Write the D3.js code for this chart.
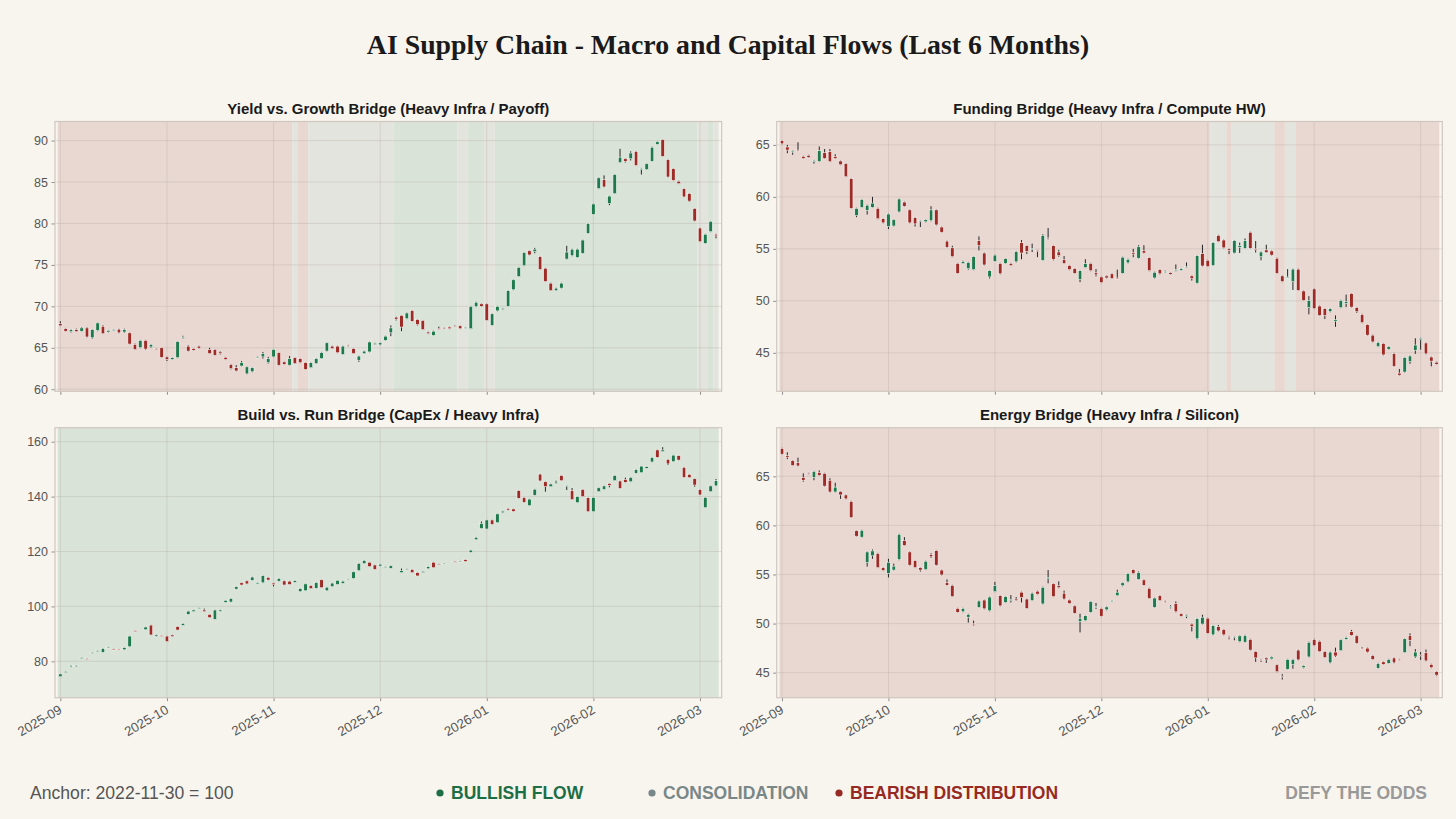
<!DOCTYPE html>
<html><head><meta charset="utf-8">
<script src="https://cdn.jsdelivr.net/npm/d3@7"></script>
<style>html,body{margin:0;padding:0;background:#f8f5ef;}svg{display:block;}</style>
</head><body>
<svg id="c" width="1456" height="819"></svg>
<script>
// ---------- DATA ----------
const monthLabels = ["2025-09","2025-10","2025-11","2025-12","2026-01","2026-02","2026-03"];
const monthTickIndex = [0,20,40,60,80,100,120];

const panelTitles = [
  "Yield vs. Growth Bridge (Heavy Infra / Payoff)",
  "Funding Bridge (Heavy Infra / Compute HW)",
  "Build vs. Run Bridge (CapEx / Heavy Infra)",
  "Energy Bridge (Heavy Infra / Silicon)"
];
const yTicks1 = [60,65,70,75,80,85,90];
const yTicks2 = [45,50,55,60,65];
const yTicks3 = [80,100,120,140,160];
const yTicks4 = [45,50,55,60,65];

// regime spans: [firstIndex, lastIndex, regime]
const regimes1 = [[0,43,"bear"],[44,44,"cons"],[45,46,"bear"],[47,62,"cons"],[63,74,"bull"],[75,76,"cons"],[77,79,"bull"],[80,81,"cons"],[82,119,"bull"],[120,121,"cons"],[122,122,"bull"],[123,123,"cons"]];
const regimes2 = [[0,80,"bear"],[81,83,"cons"],[84,84,"bear"],[85,92,"cons"],[93,94,"bear"],[95,96,"cons"],[97,123,"bear"]];
const regimes3 = [[0,123,"bull"]];
const regimes4 = [[0,123,"bear"]];

// candles [open, high, low, close]
const ohlc1 = [
[67.9,68.2,67.6,67.65],[67.3,67.4,66.95,67.0],[66.95,67.25,66.85,67.2],[67.2,67.3,66.9,66.95],[67.0,67.5,66.95,67.4],
[67.4,67.5,66.25,66.3],[66.2,67.25,66.1,67.2],[67.1,68.05,67.0,68.0],[67.6,67.7,66.65,66.7],[66.9,67.15,66.85,67.1],
[67.1,67.25,67.05,67.2],[67.25,67.3,66.75,66.8],[66.9,67.3,66.8,67.2],[66.8,66.85,65.4,65.45],[65.4,65.5,64.75,64.8],
[65.0,65.95,64.95,65.9],[65.9,65.95,64.75,64.85],[65.1,65.45,65.0,65.4],[64.9,64.95,64.75,64.8],[65.0,65.05,63.8,63.85],
[63.9,63.95,63.4,63.6],[63.6,63.85,63.55,63.8],[63.8,65.8,63.75,65.75],[66.2,66.45,66.1,66.3],[65.2,65.3,64.55,64.6],
[64.9,64.95,64.65,64.7],[65.2,65.25,64.9,64.95],null,[64.8,65.0,64.25,64.3],[64.8,64.85,64.05,64.1],
[64.5,64.6,64.2,64.3],[63.85,63.9,63.55,63.6],[63.0,63.05,62.4,62.5],[62.6,62.9,62.15,62.2],[62.8,63.4,62.75,63.2],
[61.85,62.75,61.8,62.7],[62.1,62.65,62.05,62.6],[63.9,63.95,63.85,63.9],[63.9,64.5,63.7,64.3],[63.2,63.9,63.1,63.7],
[63.9,64.85,63.85,64.8],[64.4,64.45,62.85,62.9],[63.3,63.35,62.95,63.0],[62.9,64.0,62.85,63.7],[63.8,63.85,63.05,63.1],
[63.7,63.75,63.15,63.2],[63.2,63.25,62.35,62.4],[62.6,63.25,62.55,63.2],[63.1,63.75,63.05,63.7],[63.7,64.5,63.65,64.4],
[64.6,65.65,64.55,65.6],[65.2,65.25,64.85,64.9],[65.2,65.25,64.35,64.4],[64.2,65.25,64.15,65.2],[65.3,65.35,65.15,65.2],
[64.9,64.95,64.25,64.3],[63.5,64.05,63.3,64.0],[64.3,64.65,64.25,64.6],[64.5,65.75,64.45,65.7],[65.4,65.6,65.35,65.55],
[65.35,65.65,65.3,65.6],[65.9,66.45,65.85,66.4],[66.8,67.7,66.4,67.4],[68.7,68.75,68.3,68.45],[68.9,68.95,67.0,67.5],
[68.5,69.25,68.45,69.2],[69.5,69.55,68.15,68.2],[68.4,68.45,67.7,67.8],[68.3,68.35,67.15,67.2],[66.9,66.95,66.65,66.7],
[66.5,67.05,66.45,67.0],[67.35,67.55,67.2,67.25],[67.4,67.45,67.25,67.3],[67.5,67.55,67.25,67.3],[67.7,67.75,67.55,67.6],
[67.65,67.7,67.25,67.3],[67.45,67.5,67.4,67.45],[67.3,70.05,67.25,70.0],[69.95,70.55,69.9,70.5],[70.3,70.35,69.95,70.0],
[70.3,70.35,68.25,68.3],[67.7,69.15,67.65,69.1],[69.45,70.05,69.4,70.0],[69.7,69.8,69.6,69.7],[70.0,71.95,69.95,71.9],
[72.0,73.25,71.95,73.2],[73.6,74.75,73.55,74.7],[74.9,76.55,74.85,76.5],[76.7,76.75,76.15,76.2],[76.6,77.05,76.4,76.9],
[76.0,76.05,74.4,74.45],[74.6,74.65,72.95,73.0],[72.8,72.85,71.85,71.9],[71.9,72.25,71.85,72.2],[72.2,72.85,72.15,72.8],
[75.7,77.3,75.65,76.55],[76.1,76.95,76.05,76.9],[75.9,76.95,75.85,76.9],[76.4,78.05,76.35,78.0],[78.8,80.05,78.75,80.0],
[81.1,82.4,81.05,82.35],[84.2,85.55,84.15,85.5],[85.3,85.8,84.35,84.4],[82.4,83.35,82.2,83.3],[83.6,85.95,83.55,85.9],
[87.35,89.0,87.3,88.0],[87.8,87.85,87.35,87.5],[87.8,88.7,87.6,88.5],[88.7,88.75,86.95,87.0],[86.5,86.7,85.9,86.6],
[86.5,87.25,86.45,87.2],[87.5,89.25,87.45,89.2],[89.55,89.9,89.5,89.85],[90.1,90.15,88.05,88.1],[87.7,87.75,85.55,85.6],
[86.6,86.65,85.15,85.2],[85.1,85.15,84.75,84.8],[84.2,84.25,83.15,83.2],[83.6,83.65,82.6,82.7],[81.8,81.85,80.25,80.3],
[79.45,79.5,77.75,77.8],[77.6,78.75,77.55,78.7],[79.0,80.3,78.95,80.25],[78.7,78.75,78.2,78.5]
];
const ohlc2 = [
[65.4,65.45,65.05,65.1],[64.8,65.0,64.2,64.5],[64.3,64.45,64.05,64.4],[64.5,65.25,64.4,64.45],[63.9,63.95,63.65,63.7],
[64.0,64.05,63.75,63.8],[63.4,63.55,63.2,63.5],[63.4,64.85,63.35,64.45],[64.25,64.6,63.65,63.7],[64.35,64.6,63.35,63.4],
[63.9,64.1,63.65,63.7],[63.45,63.5,63.05,63.1],[63.2,63.25,61.9,61.95],[61.75,61.8,58.85,58.9],[58.2,58.95,58.05,58.9],
[59.0,59.8,58.95,59.75],[58.7,59.25,58.3,59.2],[59.0,60.0,58.95,59.4],[58.9,58.95,57.85,57.9],[57.9,57.95,57.45,57.5],
[57.15,58.4,56.9,58.35],[57.2,57.85,57.15,57.8],[58.55,59.85,58.5,59.8],[59.5,59.55,59.05,59.1],[58.75,58.8,57.45,57.5],
[58.0,58.05,57.15,57.4],[57.65,57.75,57.1,57.7],[57.6,57.85,57.55,57.8],[57.7,59.1,57.65,58.75],[58.75,58.8,57.25,57.3],
[57.1,57.15,56.55,56.6],[55.75,55.8,55.1,55.15],[55.1,55.3,54.2,54.25],[53.6,53.65,52.6,52.65],[53.6,53.85,53.55,53.8],
[53.1,53.75,53.0,53.7],[53.0,54.3,52.95,54.25],[55.8,56.2,54.85,55.3],[54.6,54.65,53.4,53.45],[52.3,52.95,52.15,52.9],
[53.8,54.45,53.75,54.4],[53.6,53.65,52.55,52.6],[53.6,54.1,53.55,54.05],[53.6,53.65,53.35,53.4],[53.75,54.8,53.7,54.75],
[55.6,55.85,54.0,54.6],[55.3,55.35,54.5,54.75],[54.95,55.5,54.7,55.05],[54.85,54.9,54.2,54.75],[53.9,56.4,53.85,56.3],
[56.05,57.0,55.9,56.0],[55.3,55.35,53.9,54.0],[54.7,54.9,54.25,54.35],[53.95,54.3,53.55,53.6],[53.4,53.45,52.95,53.0],
[53.1,53.15,52.6,52.65],[52.05,52.95,51.8,52.9],[53.2,54.0,53.15,53.6],[53.6,53.65,52.85,52.9],[52.7,53.05,52.35,52.5],
[52.3,52.35,51.7,51.75],[52.4,52.45,52.15,52.2],[52.6,52.65,52.1,52.15],[52.2,53.0,52.1,52.15],[52.65,54.25,52.6,54.2],
[53.65,54.05,53.6,54.0],[54.65,55.0,54.2,54.5],[54.1,55.35,54.05,55.2],[54.85,55.35,54.55,54.6],[54.15,54.2,52.85,52.9],
[52.2,52.8,52.15,52.75],[53.0,53.05,52.55,52.6],[52.8,52.9,52.7,52.8],[52.7,52.75,52.5,52.55],[53.0,53.5,52.85,53.0],
[52.95,53.15,52.9,53.1],[53.25,53.7,53.2,53.3],[52.4,52.45,51.95,52.15],[51.7,54.4,51.65,54.35],[54.55,55.4,53.3,53.35],
[53.9,53.95,53.25,53.3],[53.4,55.65,53.35,55.6],[56.3,56.35,55.65,55.7],[55.85,55.9,55.05,55.1],[55.0,55.05,54.5,54.85],
[54.6,55.85,54.55,55.8],[55.15,55.6,54.6,55.3],[55.05,56.0,55.0,55.8],[56.6,56.65,55.0,55.05],[55.0,55.75,54.65,54.9],
[54.25,54.75,53.9,54.7],[54.9,55.4,54.6,54.65],[54.8,54.85,54.35,54.4],[54.1,54.15,52.6,52.65],[52.4,52.45,51.8,51.85],
[52.3,53.05,52.25,52.3],[51.85,53.1,51.05,53.05],[53.05,53.1,50.95,51.0],[50.95,51.0,50.0,50.05],[49.35,50.45,48.7,50.05],
[51.15,51.2,49.2,49.25],[49.5,49.55,48.55,48.6],[49.25,49.3,48.25,48.6],[48.95,49.3,48.9,49.25],[48.05,48.6,47.5,48.2],
[49.35,50.1,49.3,50.05],[49.75,50.6,49.4,49.95],[50.7,50.75,49.35,49.4],[49.35,49.4,48.85,48.95],[48.7,48.75,47.85,47.9],
[47.7,47.75,46.65,46.7],[46.7,46.75,46.0,46.05],[45.6,46.05,45.55,46.0],[45.9,45.95,44.75,44.8],[45.35,45.65,45.3,45.6],
[44.95,45.0,43.65,43.7],[43.05,43.45,42.8,42.85],[43.15,44.6,43.1,44.55],[44.15,44.75,43.95,44.7],[45.25,46.4,44.9,45.75],
[46.25,46.45,45.3,46.4],[45.95,46.0,44.85,44.9],[44.6,44.65,43.7,44.2],[44.1,44.15,43.85,43.9]
];
const ohlc3 = [
[74.4,75.5,74.3,75.4],[75.9,76.4,75.8,76.3],[78.0,78.6,77.9,78.5],[78.1,78.6,78.0,78.5],[81.2,81.5,81.1,81.3],
[81.0,81.1,80.9,80.95],[83.1,83.3,83.0,83.2],[83.6,84.0,83.5,83.9],[83.3,84.8,83.2,84.7],[85.1,85.3,85.0,85.2],
[84.5,84.6,84.3,84.4],[84.4,84.5,84.3,84.35],[84.2,85.1,84.1,85.0],[85.3,89.3,85.2,89.2],[91.1,91.2,90.9,91.0],
null,[91.5,92.6,91.4,92.5],[93.2,93.3,89.5,89.6],[89.1,89.7,89.0,89.6],[89.4,89.5,89.3,89.35],
[89.2,89.3,87.1,87.2],[89.6,89.7,88.9,89.0],[92.6,92.7,91.3,91.4],[93.1,93.9,93.0,93.8],[97.1,98.4,97.0,98.3],
[98.1,98.8,98.0,98.7],[99.4,99.6,99.3,99.5],[98.7,99.2,98.0,98.1],[97.1,97.2,95.8,95.9],[95.3,98.8,95.2,98.7],
[98.2,98.8,98.1,98.7],[101.5,102.3,101.4,102.2],[101.6,103.0,101.5,102.9],[106.3,107.3,106.2,107.2],[108.6,108.7,107.7,107.8],
[109.3,109.4,108.1,108.2],[109.5,110.8,109.4,110.7],[108.2,108.7,108.1,108.6],[108.6,111.3,108.5,111.2],[110.6,110.7,109.5,109.6],
[108.5,108.6,107.3,107.9],[109.2,110.3,109.1,110.2],[109.3,109.4,107.7,107.8],[109.2,109.3,107.9,108.0],[108.8,109.5,108.7,109.4],
[105.4,106.6,105.3,106.5],[105.7,108.3,105.6,108.2],[107.6,107.7,106.4,106.5],[106.6,108.8,106.5,108.7],[109.7,109.8,106.7,106.8],
[105.7,107.1,105.6,107.0],[107.2,108.6,107.1,108.5],[108.0,109.6,107.9,109.5],[108.4,109.3,108.3,109.2],[109.8,110.0,109.7,109.9],
[110.2,112.7,110.1,112.6],[113.0,115.8,112.9,115.7],[115.6,116.9,115.5,116.8],[116.1,116.2,114.4,114.5],[115.1,115.2,113.4,113.5],
[114.7,115.5,114.6,115.4],[114.4,114.6,114.3,114.5],[113.9,114.9,113.8,114.8],null,[112.3,113.8,112.2,113.0],
[113.6,113.8,113.5,113.7],[113.5,113.6,112.2,112.3],[112.3,112.4,111.0,111.1],[112.3,112.9,112.2,112.8],[113.7,114.6,113.6,114.5],
[116.1,116.2,114.0,114.1],[115.4,115.5,115.3,115.35],[115.6,115.8,115.5,115.7],null,[116.4,116.5,116.2,116.3],
[116.5,116.6,116.4,116.55],[117.0,117.1,116.3,116.4],[119.7,120.6,119.6,120.5],[124.3,125.3,124.2,125.2],[128.4,130.9,128.3,130.2],
[128.2,131.6,128.1,131.5],[131.5,131.6,129.8,129.9],[130.5,133.8,130.4,133.7],[134.1,134.8,134.0,134.7],[135.7,135.8,135.0,135.1],
[135.5,135.6,134.5,134.6],[142.2,142.3,139.3,139.4],[139.7,139.8,137.8,137.9],[136.7,139.2,136.6,139.1],[140.5,142.8,140.4,142.7],
[148.2,148.3,145.6,145.7],[145.4,145.5,141.8,143.6],[143.6,144.7,143.5,144.6],[144.8,145.8,144.7,145.3],[147.7,147.8,145.7,145.8],
[143.9,144.1,142.4,144.0],[142.2,143.1,138.8,138.9],[137.8,140.1,137.7,140.0],[142.6,142.7,139.9,140.0],[139.6,139.7,134.4,134.5],
[134.5,139.8,134.4,139.7],[141.8,143.3,141.7,143.2],[142.6,144.0,142.5,143.9],[144.8,144.9,143.4,144.1],[145.8,147.8,145.7,147.7],
[145.7,145.8,142.9,143.0],[146.3,146.9,145.1,145.2],[145.4,147.1,145.3,147.0],[148.5,150.0,148.4,149.9],[148.7,151.2,148.6,151.1],
[150.3,151.0,150.2,150.9],[152.6,154.4,152.5,154.3],[157.0,157.1,154.2,154.3],[156.4,158.0,156.3,157.0],[153.6,153.7,151.5,151.9],
[152.7,155.2,152.6,155.1],[154.9,155.0,153.2,153.3],[150.7,150.8,146.9,147.0],[148.1,148.2,146.8,146.9],[146.5,146.6,143.6,144.2],
[142.6,142.7,140.5,140.6],[136.0,139.8,135.9,139.7],[141.8,144.0,141.7,143.9],[143.9,146.4,143.8,145.8]
];
const ohlc4 = [
[67.85,67.9,67.2,67.25],[67.1,67.45,66.75,66.95],[66.6,66.65,66.05,66.1],[66.4,66.9,66.0,66.05],[64.9,65.3,64.45,64.6],
[65.3,65.35,65.2,65.25],[64.9,65.55,64.6,65.5],[65.4,65.6,65.05,65.1],[65.3,65.35,63.95,64.0],[64.6,64.8,63.35,63.4],
[63.4,64.35,63.35,63.9],[63.45,63.5,62.7,63.1],[63.1,63.15,62.65,62.7],[62.45,62.5,60.75,60.8],[59.45,59.5,58.85,58.9],
[58.8,59.55,58.75,59.5],[56.2,57.35,55.8,57.3],[56.9,57.55,56.6,57.4],[57.15,57.2,55.65,55.7],[55.7,55.75,55.35,55.4],
[55.1,56.6,54.7,56.25],[55.45,56.1,55.4,55.85],[56.5,59.15,56.45,59.1],[58.45,58.8,57.9,57.95],[57.3,57.35,55.9,55.95],
[56.4,56.45,55.65,55.7],[55.7,55.75,55.3,55.45],[55.5,56.4,55.45,56.35],[57.05,57.15,56.7,56.8],[57.45,57.5,55.9,55.95],
[55.45,55.5,54.9,54.95],[54.2,54.5,53.85,53.9],[53.9,53.95,52.7,52.75],[51.55,51.6,51.1,51.15],[51.2,51.6,51.15,51.55],
[50.65,51.0,50.1,50.95],[50.0,50.3,49.8,49.9],[51.65,52.35,51.6,52.3],[52.4,52.45,51.45,51.5],[51.3,52.75,51.25,52.7],
[53.25,54.25,53.2,53.9],[52.85,52.9,51.75,51.8],[52.15,52.8,52.1,52.75],[52.4,52.9,52.15,52.45],[52.5,52.7,52.3,52.35],
[53.2,53.25,52.15,52.65],[52.5,52.55,51.5,51.55],[52.35,53.15,52.3,53.1],[53.3,53.35,52.95,53.0],[52.0,53.75,51.95,53.7],
[54.55,55.45,54.1,54.7],[54.05,54.1,52.7,52.75],[53.85,54.3,53.6,53.65],[53.1,53.35,52.45,52.5],[52.4,52.45,52.0,52.05],
[51.8,51.85,51.0,51.05],[50.2,51.0,49.1,50.55],[50.3,50.85,50.25,50.8],[51.15,52.3,51.1,52.25],[51.7,52.1,51.5,51.75],
[51.55,51.6,50.7,50.75],[51.4,51.75,51.35,51.7],[52.3,52.4,52.2,52.35],[52.85,53.45,52.8,53.2],[53.85,54.2,53.8,54.15],
[54.25,55.15,54.2,55.1],[55.5,55.55,55.05,55.1],[54.5,55.3,54.45,55.2],[54.45,54.5,53.85,53.9],[53.6,53.65,52.5,52.55],
[51.65,52.65,51.6,52.6],[52.85,52.9,52.3,52.35],[52.3,52.35,52.15,52.2],[51.7,51.85,51.55,51.75],[52.05,52.25,51.15,51.2],
[51.0,51.05,50.7,50.75],[50.7,50.9,50.55,50.85],[49.95,50.0,49.2,49.7],[48.45,50.55,48.4,50.5],[49.95,50.9,49.9,50.65],
[50.55,50.6,48.95,49.0],[48.85,49.85,48.8,49.8],[49.7,49.85,49.2,49.25],[49.4,49.45,48.8,48.85],[48.65,48.75,48.4,48.6],
[48.6,48.7,48.3,48.65],[48.15,48.8,48.1,48.75],[48.1,48.85,48.05,48.8],[48.4,48.45,47.25,47.3],[47.15,47.2,46.1,46.5],
[46.35,46.4,46.1,46.3],[46.5,46.55,46.0,46.3],[46.4,46.65,46.35,46.6],[45.8,45.85,45.05,45.1],[44.65,44.85,44.3,44.6],
[45.35,46.4,45.3,46.35],[45.85,46.4,45.4,46.35],[47.3,47.35,46.25,46.3],[45.5,45.75,45.45,45.7],[46.6,48.15,46.55,48.1],
[48.4,48.45,47.7,47.75],[48.2,48.25,47.1,47.15],[47.15,47.2,46.5,46.55],[46.0,47.15,45.95,47.1],[47.1,47.55,46.6,46.7],
[47.25,48.4,47.2,48.35],[48.4,48.65,48.35,48.6],[49.2,49.35,48.75,48.8],[48.75,48.8,47.95,48.0],[47.5,47.6,47.4,47.45],
[47.5,47.55,47.05,47.1],[46.75,46.8,46.3,46.35],[45.45,46.0,45.4,45.95],[46.1,46.15,45.8,45.85],[45.95,46.4,45.9,46.35],
[46.5,46.55,45.95,46.0],[46.35,46.4,46.25,46.3],[47.05,48.5,47.0,48.45],[48.8,49.0,47.7,48.3],[46.6,47.4,46.5,47.1],
[46.8,47.1,46.3,46.75],[47.05,47.35,46.15,46.2],[45.85,45.9,45.45,45.5],[45.1,45.15,44.65,44.75]
];

const legendItems = [
  {label:"BULLISH FLOW", regime:"bull"},
  {label:"CONSOLIDATION", regime:"cons"},
  {label:"BEARISH DISTRIBUTION", regime:"bear"}
];
const mainTitle = "AI Supply Chain - Macro and Capital Flows (Last 6 Months)";
const anchorNote = "Anchor: 2022-11-30 = 100";
const brand = "DEFY THE ODDS";

// ---------- STYLE / LAYOUT ----------
const bandColor = {bull:"#d9e3d8", cons:"#e4e4de", bear:"#e9d8d2"};
const textColor = {bull:"#1d6e45", cons:"#788787", bear:"#962a22"};
const upColor = "#1e7a4c", downColor = "#9e2b25";
const sans = "'Liberation Sans', Arial, Helvetica, sans-serif";

const panels = [
  {title:panelTitles[0], data:ohlc1, regimes:regimes1, ticks:yTicks1, ydom:[59.75,92.3], box:[55,121.5,721.7,391.3], xlabels:false},
  {title:panelTitles[1], data:ohlc2, regimes:regimes2, ticks:yTicks2, ydom:[41.3,67.25], box:[776.7,121.5,1442.3,391.3], xlabels:false},
  {title:panelTitles[2], data:ohlc3, regimes:regimes3, ticks:yTicks3, ydom:[66.75,165.1], box:[55,427.7,721.7,697.7], xlabels:true},
  {title:panelTitles[3], data:ohlc4, regimes:regimes4, ticks:yTicks4, ydom:[42.45,69.95], box:[776.7,427.7,1442.3,697.7], xlabels:true}
];

const svg = d3.select("#c");
svg.append("rect").attr("width",1456).attr("height",819).attr("fill","#f8f5ef");

svg.append("text").attr("x",728).attr("y",54).attr("text-anchor","middle")
  .attr("font-family","'Liberation Serif','Times New Roman',serif").attr("font-weight","bold")
  .attr("font-size",27.8).attr("fill","#1a1a1a").text(mainTitle);

panels.forEach(p => {
  const [x0,y0,x1,y1] = p.box;
  const n = p.data.length;
  const x = d3.scaleLinear().domain([-1, n + 0.07]).range([x0,x1]);
  const y = d3.scaleLinear().domain(p.ydom).range([y1,y0]);
  const g = svg.append("g");
  const cx = (x0+x1)/2;
  g.append("text").attr("x",cx).attr("y",y0-8).attr("text-anchor","middle")
    .attr("font-family",sans).attr("font-weight","bold").attr("font-size",15)
    .attr("fill","#1a1a1a").text(p.title);

  g.append("rect").attr("x",x0).attr("y",y0).attr("width",x1-x0).attr("height",y1-y0).attr("fill","#f8f5ef");
  g.selectAll(".band").data(p.regimes).join("rect")
    .attr("x",d=>x(d[0]-0.5)).attr("width",d=>x(d[1]+0.5)-x(d[0]-0.5))
    .attr("y",y0).attr("height",y1-y0).attr("fill",d=>bandColor[d[2]]);

  // grid
  g.selectAll(".hg").data(p.ticks).join("line")
    .attr("x1",x0).attr("x2",x1).attr("y1",d=>y(d)).attr("y2",d=>y(d))
    .attr("stroke","#b0a69e").attr("stroke-opacity",0.4).attr("stroke-width",0.8);
  g.selectAll(".vg").data(monthTickIndex).join("line")
    .attr("y1",y0).attr("y2",y1).attr("x1",d=>x(d)).attr("x2",d=>x(d))
    .attr("stroke","#b0a69e").attr("stroke-opacity",0.4).attr("stroke-width",0.8);

  // candles
  const pts = p.data.map((d,i)=>d?{i,o:d[0],h:d[1],l:d[2],c:d[3]}:null).filter(d=>d);
  const bw = (x(1)-x(0))*0.66;
  g.selectAll(".wick").data(pts).join("line")
    .attr("x1",d=>x(d.i)).attr("x2",d=>x(d.i)).attr("y1",d=>y(d.h)).attr("y2",d=>y(d.l))
    .attr("stroke","#262626").attr("stroke-width",1);
  g.selectAll(".body").data(pts).join("rect")
    .attr("x",d=>x(d.i)-bw/2).attr("width",bw)
    .attr("y",d=>y(Math.max(d.o,d.c)))
    .attr("height",d=>Math.max(1,Math.abs(y(d.o)-y(d.c))))
    .attr("fill",d=>d.c>=d.o?upColor:downColor)
    .attr("stroke","#ffffff").attr("stroke-width",0.55);

  // axes
  const ya = d3.axisLeft(y).tickValues(p.ticks).tickSize(3.5).tickPadding(3.5).tickFormat(d3.format("d"));
  const yg = g.append("g").attr("transform",`translate(${x0},0)`).call(ya);
  const xa = d3.axisBottom(x).tickValues(monthTickIndex).tickSize(3.5).tickPadding(3)
    .tickFormat((d,k)=>p.xlabels?monthLabels[k]:"");
  const xg = g.append("g").attr("transform",`translate(0,${y1})`).call(xa);
  [yg,xg].forEach(a=>{
    a.select(".domain").remove();
    a.selectAll(".tick line").attr("stroke","#777").attr("stroke-width",0.8);
    a.selectAll("text").attr("fill","#555").attr("font-family",sans).attr("font-size",12.5);
  });
  if (p.xlabels) {
    xg.selectAll("text").attr("text-anchor","end").attr("dy",null).attr("font-size",13.2)
      .attr("transform","translate(0,9) rotate(-30)").attr("y",6).attr("x",-1);
  }
  g.append("rect").attr("x",x0).attr("y",y0).attr("width",x1-x0).attr("height",y1-y0)
    .attr("fill","none").attr("stroke","#cfc7bf").attr("stroke-width",1.2);
});

// footer legend
const fy = 799;
svg.append("text").attr("x",30).attr("y",fy).attr("font-family",sans).attr("font-size",17.6)
  .attr("fill","#555").text(anchorNote);
const legX = [437, 649, 836];
legendItems.forEach((it,k)=>{
  svg.append("circle").attr("cx",legX[k]+3).attr("cy",fy-6).attr("r",3.6).attr("fill",textColor[it.regime]);
  svg.append("text").attr("x",legX[k]+14).attr("y",fy).attr("font-family",sans).attr("font-weight","bold")
    .attr("font-size",17.5).attr("fill",textColor[it.regime]).text(it.label);
});
svg.append("text").attr("x",1427).attr("y",fy).attr("text-anchor","end").attr("font-family",sans)
  .attr("font-weight","bold").attr("font-size",17.5).attr("fill","#999").text(brand);
</script>
</body></html>
